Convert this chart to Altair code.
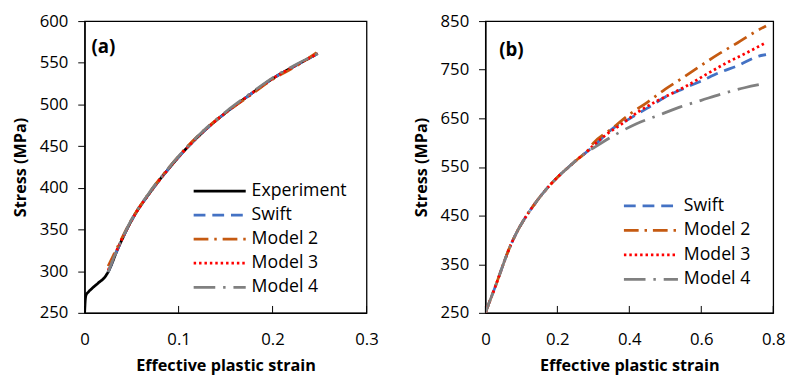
import altair as alt
import pandas as pd

FONT = "Open Sans"

SERIES_A = ["Experiment", "Swift", "Model 2", "Model 3", "Model 4"]
SERIES_B = ["Swift", "Model 2", "Model 3", "Model 4"]
COLOR_MAP = {"Experiment": "#000000", "Swift": "#4472C4", "Model 2": "#C55A11",
             "Model 3": "#FF0000", "Model 4": "#808080"}
DASH_MAP = {"Experiment": [1, 0], "Swift": [12, 7], "Model 2": [15, 6, 2.5, 6],
            "Model 3": [2.5, 3], "Model 4": [22, 8, 2.5, 8]}

# ---------------- Panel (a) ----------------
exp_a_strain = [0, 0.0005, 0.0014, 0.004, 0.0076, 0.0147, 0.0216, 0.025, 0.035, 0.05,
                0.07, 0.088, 0.1, 0.125, 0.15, 0.175, 0.2, 0.225, 0.248]
exp_a_stress = [250, 262, 271, 275, 279, 286, 293, 299, 326, 361,
                395, 421, 437, 466, 490, 511, 531, 547, 561]

mod_a_strain = [0.025, 0.035, 0.05, 0.07, 0.088, 0.1, 0.125, 0.15, 0.175, 0.2, 0.225, 0.248]
swift_a = [299, 326, 361, 395, 421, 437, 466, 490, 511, 531, 547, 561]
model2_a = [306, 329, 362, 396, 422, 438, 467, 490, 510, 530, 546, 563]
model3_a = [301, 327, 361, 395, 421, 437, 466, 490, 511, 531, 547, 561]
model4_a = [299, 327, 362, 396, 422, 438, 467, 491, 512, 532, 548, 561]

# ---------------- Panel (b) ----------------
base_b_strain = [0, 0.01, 0.029, 0.043, 0.065, 0.088, 0.111, 0.134, 0.161, 0.206, 0.23, 0.256, 0.28]
base_b_stress = [250, 270, 307, 336, 380, 417, 446, 471, 497, 533, 549, 566, 580]

swift_b_strain = [0.3, 0.35, 0.4, 0.45, 0.5, 0.55, 0.6, 0.65, 0.7, 0.76, 0.78]
swift_b_stress = [592, 627, 649, 671, 694, 711, 727, 744, 758, 778, 781]
model2_b_strain = [0.3, 0.35, 0.4, 0.45, 0.5, 0.55, 0.6, 0.65, 0.7, 0.75, 0.78]
model2_b_stress = [599, 628, 658, 683, 710, 734, 759, 783, 805, 828, 840]
model3_b_strain = [0.3, 0.333, 0.38, 0.424, 0.47, 0.515, 0.56, 0.606, 0.67, 0.724, 0.78]
model3_b_stress = [594, 615, 639, 663, 683, 700, 717, 737, 764, 784, 806]
model4_b_strain = [0.3, 0.36, 0.42, 0.48, 0.54, 0.6, 0.66, 0.72, 0.78]
model4_b_stress = [589, 616, 639, 656, 673, 687, 701, 713, 722]

x_ticks_a = [0, 0.1, 0.2, 0.3]
y_ticks_a = [250, 300, 350, 400, 450, 500, 550, 600]
x_ticks_b = [0, 0.2, 0.4, 0.6, 0.8]
y_ticks_b = [250, 350, 450, 550, 650, 750, 850]


def rows(name, xs, ys):
    return [{"series": name, "strain": x, "stress": y} for x, y in zip(xs, ys)]


df_a = pd.DataFrame(
    rows("Experiment", exp_a_strain, exp_a_stress)
    + rows("Swift", mod_a_strain, swift_a)
    + rows("Model 2", mod_a_strain, model2_a)
    + rows("Model 3", mod_a_strain, model3_a)
    + rows("Model 4", mod_a_strain, model4_a)
)

df_b = pd.DataFrame(
    rows("Swift", base_b_strain + swift_b_strain, base_b_stress + swift_b_stress)
    + rows("Model 2", base_b_strain + model2_b_strain, base_b_stress + model2_b_stress)
    + rows("Model 3", base_b_strain + model3_b_strain, base_b_stress + model3_b_stress)
    + rows("Model 4", base_b_strain + model4_b_strain, base_b_stress + model4_b_stress)
)
df_a["idx"] = range(len(df_a))
df_b["idx"] = range(len(df_b))

LW = 2.8


def panel(df, series, xdom, xvals, ydom, yvals, w, h, label, lab_x, lab_y,
          sym_x0, sym_x1, leg_y0, leg_y1):
    xs = alt.Scale(domain=xdom, nice=False, zero=False)
    ys = alt.Scale(domain=ydom, nice=False, zero=False)
    cscale = alt.Scale(domain=series, range=[COLOR_MAP[s] for s in series])
    dscale = alt.Scale(domain=series, range=[DASH_MAP[s] for s in series])
    lines = alt.Chart(df).mark_line(strokeWidth=LW, clip=True, interpolate="monotone").encode(
        x=alt.X("strain:Q", scale=xs,
                axis=alt.Axis(values=xvals, format="~g", ticks=False, labelPadding=19,
                              labelFlush=False,
                              title="Effective plastic strain", titlePadding=11)),
        y=alt.Y("stress:Q", scale=ys,
                axis=alt.Axis(values=yvals, format="d", tickSize=7, labelPadding=10,
                              labelFlush=False,
                              title="Stress (MPa)", titlePadding=11)),
        color=alt.Color("series:N", scale=cscale, legend=None),
        strokeDash=alt.StrokeDash("series:N", scale=dscale, legend=None),
        order="idx:Q",
    )
    ticks = alt.Chart(pd.DataFrame({"t": xvals})).mark_rule(color="black", strokeWidth=1).encode(
        x=alt.X("t:Q", scale=xs), y=alt.value(h), y2=alt.value(h - 7)
    )
    txt = alt.Chart(pd.DataFrame({"label": [label]})).mark_text(
        align="left", baseline="middle", fontWeight="bold", fontSize=19, font=FONT, color="black"
    ).encode(x=alt.value(lab_x), y=alt.value(lab_y), text="label:N")

    leg_df = pd.DataFrame({"series": series})
    ly = alt.Y("series:N", scale=alt.Scale(type="point", domain=series,
                                            range=[leg_y0, leg_y1], padding=0), axis=None)
    leg_rule = alt.Chart(leg_df).mark_rule(strokeWidth=LW).encode(
        x=alt.value(sym_x0), x2=alt.value(sym_x1), y=ly,
        color=alt.Color("series:N", scale=cscale, legend=None),
        strokeDash=alt.StrokeDash("series:N", scale=dscale, legend=None),
    )
    leg_text = alt.Chart(leg_df).mark_text(
        align="left", baseline="middle", fontSize=18, font=FONT, color="black"
    ).encode(x=alt.value(sym_x1 + 6), y=ly, text="series:N")

    return alt.layer(lines, ticks, txt, leg_rule, leg_text).resolve_scale(
        y="independent"
    ).properties(width=w, height=h)


left = panel(df_a, SERIES_A, [0, 0.3], x_ticks_a, [250, 600], y_ticks_a, 287, 297,
             "(a)", 7, 26, 111, 164, 173, 271)
right = panel(df_b, SERIES_B, [0, 0.8], x_ticks_b, [250, 850], y_ticks_b, 293, 297,
              "(b)", 14, 30, 141, 196, 188, 263)

chart = alt.hconcat(left, right, spacing=34).resolve_scale(
    color="independent", strokeDash="independent"
).configure_view(
    stroke="black", strokeWidth=1.3
).configure_axis(
    grid=False, domainColor="black", tickColor="black", labelColor="black",
    titleColor="black", labelFont=FONT, titleFont=FONT, labelFontSize=17,
    titleFontSize=16.5, titleFontWeight="bold", domainWidth=1.3
).properties(padding={"left": 4, "top": 0, "right": 0, "bottom": 0})

chart.save("out.html", embed_options={"renderer": "svg", "actions": False})
